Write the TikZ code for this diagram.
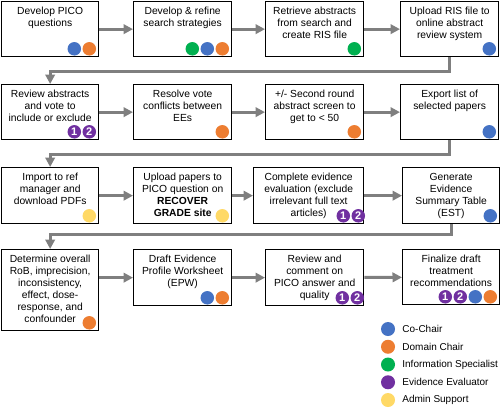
\documentclass[tikz,border=0pt]{standalone}
\usepackage{fontspec}
\setmainfont{Liberation Sans}
\usepackage{tikz}
\usetikzlibrary{arrows.meta, positioning, calc}
\definecolor{cochair}{RGB}{68, 114, 196}
\definecolor{domainchair}{RGB}{237, 125, 49}
\definecolor{infospec}{RGB}{0, 176, 80}
\definecolor{evaluator}{RGB}{112, 48, 160}
\definecolor{admin}{RGB}{255, 217, 102}
\definecolor{flowgray}{RGB}{127, 127, 127}

% role dots in the lower right corner of a box, listed from the right
\newcommand{\roledots}[3]{%
  \foreach \c/\t [count=\i] in {#3}
    \node[role=\c] (#1-r\i) at ($(#1.south east)+({-#2-15*(\i-1)},-8.5)$) {\t};
}

\begin{document}
\begin{tikzpicture}[x=1pt, y=-1pt,
  stepbox/.style={draw=black, line width=1.3pt, fill=white, anchor=north west, inner sep=0pt, minimum height=55pt},
  steptext/.style={align=center, inner sep=0pt, font=\fontsize{10.3}{12}\selectfont},
  flow/.style={draw=flowgray, line width=3pt, -{Triangle[length=9.5pt, width=9.5pt]}},
  role/.style={circle, fill=#1, minimum size=13.5pt, inner sep=0pt, text=white, font=\bfseries\fontsize{11}{11}\selectfont},
  legendtext/.style={anchor=west, inner sep=0pt, font=\fontsize{10}{12}\selectfont}]
  \useasboundingbox (0,0) rectangle (500,407);

  % row 1
  \node[stepbox, minimum width=97pt] (b1) at (1,1) {};
  \node[stepbox, minimum width=98pt] (b2) at (133,1) {};
  \node[stepbox, minimum width=98pt] (b3) at (265,1) {};
  \node[stepbox, minimum width=98pt] (b4) at (400,1) {};
  \node[steptext, below=6pt of b1.north] (t1) {Develop PICO\\questions};
  \node[steptext, below=6pt of b2.north] (t2) {Develop \& refine\\search strategies};
  \node[steptext, below=6pt of b3.north] (t3) {Retrieve abstracts\\from search and\\create RIS file};
  \node[steptext, below=6pt of b4.north] (t4) {Upload RIS file to\\online abstract\\review system};
  \roledots{b1}{10}{domainchair/{}, cochair/{}}
  \roledots{b2}{10}{domainchair/{}, cochair/{}, infospec/{}}
  \roledots{b3}{10}{infospec/{}}
  \roledots{b4}{10}{cochair/{}}

  % row 2
  \node[stepbox, minimum width=97pt] (b5) at (1,84) {};
  \node[stepbox, minimum width=98pt] (b6) at (133,84) {};
  \node[stepbox, minimum width=98pt] (b7) at (265,84) {};
  \node[stepbox, minimum width=98pt] (b8) at (400,84) {};
  \node[steptext, below=6pt of b5.north] (t5) {Review abstracts\\and vote to\\include or exclude};
  \node[steptext, below=6pt of b6.north] (t6) {Resolve vote\\conflicts between\\EEs};
  \node[steptext, below=6pt of b7.north] (t7) {+/- Second round\\abstract screen to\\get to < 50};
  \node[steptext, below=6pt of b8.north] (t8) {Export list of\\selected papers};
  \roledots{b5}{10}{evaluator/2, evaluator/1}
  \roledots{b6}{10}{domainchair/{}}
  \roledots{b7}{10}{domainchair/{}}
  \roledots{b8}{10}{cochair/{}}

  % row 3
  \node[stepbox, minimum width=97pt, minimum height=56pt] (b9) at (1,167) {};
  \node[stepbox, minimum width=98pt, minimum height=56pt] (b10) at (133,167) {};
  \node[stepbox, minimum width=110pt, minimum height=56pt] (b11) at (253,167) {};
  \node[stepbox, minimum width=97pt, minimum height=56pt] (b12) at (402,167) {};
  \node[steptext, below=6pt of b9.north] (t9) {Import to ref\\manager and\\download PDFs};
  \node[steptext, below=6pt of b10.north] (t10) {Upload papers to\\PICO question on\\\textbf{RECOVER}\\\textbf{GRADE site}};
  \node[steptext, below=6pt of b11.north] (t11) {Complete evidence\\evaluation (exclude\\irrelevant full text\\articles)};
  \node[steptext, below=6pt of b12.north] (t12) {Generate\\Evidence\\Summary Table\\(EST)};
  \roledots{b9}{10}{admin/{}}
  \roledots{b10}{10}{admin/{}}
  \roledots{b11}{6}{evaluator/2, evaluator/1}
  \roledots{b12}{10}{cochair/{}}

  % row 4
  \node[stepbox, minimum width=97pt, minimum height=81pt] (b13) at (1,249) {};
  \node[stepbox, minimum width=98pt, minimum height=56pt] (b14) at (133,249) {};
  \node[stepbox, minimum width=98pt, minimum height=56pt] (b15) at (265,249) {};
  \node[stepbox, minimum width=97pt, minimum height=55pt] (b16) at (402,249) {};
  \node[steptext, below=6pt of b13.north] (t13) {Determine overall\\RoB, imprecision,\\inconsistency,\\effect, dose-\\response, and\\confounder};
  \node[steptext, below=6pt of b14.north] (t14) {Draft Evidence\\Profile Worksheet\\(EPW)};
  \node[steptext, below=6pt of b15.north] (t15) {Review and\\comment on\\PICO answer and\\quality};
  \node[steptext, below=6pt of b16.north] (t16) {Finalize draft\\treatment\\recommendations};
  \roledots{b13}{10}{domainchair/{}}
  \roledots{b14}{10}{domainchair/{}, cochair/{}}
  \roledots{b15}{7}{evaluator/2, evaluator/1}
  \roledots{b16}{10}{domainchair/{}, cochair/{}, evaluator/2, evaluator/1}

  % connectors
  \draw[flow] (b1) -- (b2);
  \draw[flow] (b2) -- (b3);
  \draw[flow] (b3) -- (b4);
  \draw[flow] (b4.south) -- ++(0,14) -| (b5.north);
  \draw[flow] (b5) -- (b6);
  \draw[flow] (b6) -- (b7);
  \draw[flow] (b7) -- (b8);
  \draw[flow] (b8.south) -- ++(0,14) -| (b9.north);
  \draw[flow] (b9) -- (b10);
  \draw[flow] (b10) -- (b11);
  \draw[flow] (b11) -- (b12);
  \draw[flow] (b12.south) -- ++(0,10) -| (b13.north);
  \draw[flow] (b13.east |- b14) -- (b14);
  \draw[flow] (b14) -- (b15);
  \draw[flow] (b15) -- (b16);

  % legend
  \foreach \c/\t [count=\i] in {cochair/Co-Chair, domainchair/Domain Chair, infospec/Information Specialist, evaluator/Evidence Evaluator, admin/Admin Support}{
    \node[role=\c, minimum size=14pt] (l\i) at (388, {329+17.75*(\i-1)}) {};
    \node[legendtext, right=7pt of l\i] (lt\i) {\t};
  }
\end{tikzpicture}
\end{document}
